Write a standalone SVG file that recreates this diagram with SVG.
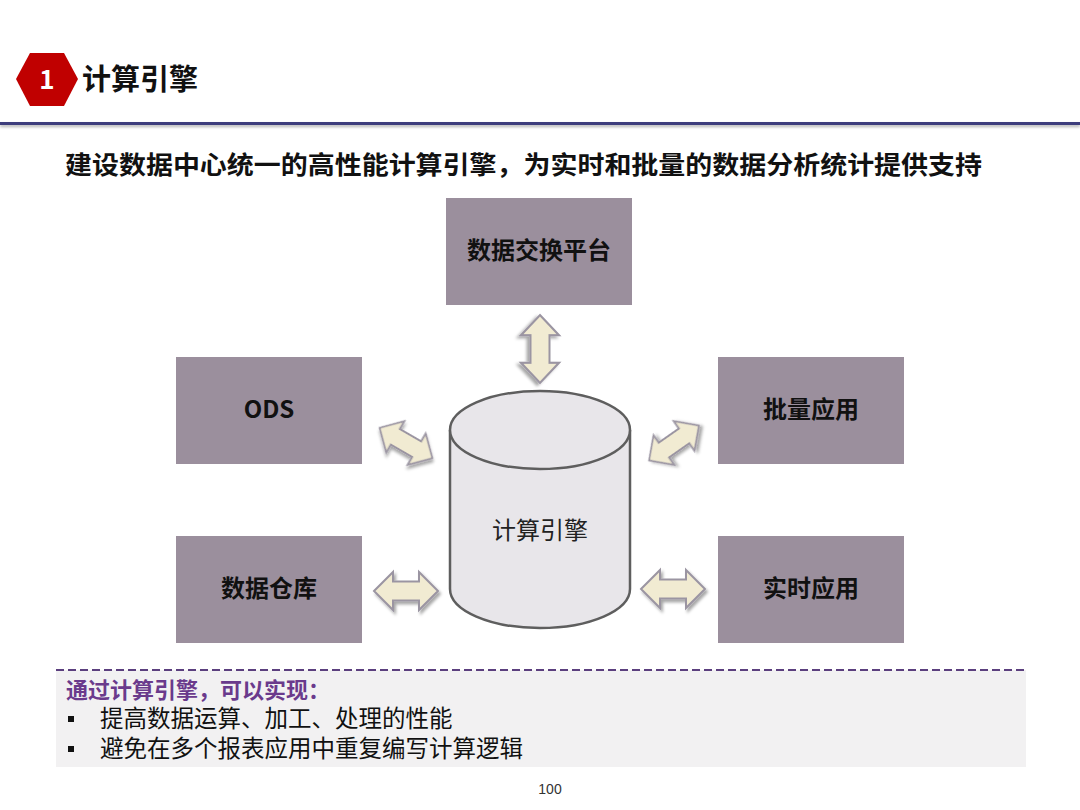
<svg xmlns="http://www.w3.org/2000/svg" width="1080" height="810" viewBox="0 0 1080 810">
<style>
.cjk{font-family:"Noto Sans CJK SC","Liberation Sans",sans-serif}
.box{fill:#9b8f9d}
.boxt{font-family:"Noto Sans CJK SC","Liberation Sans",sans-serif;font-size:24px;font-weight:bold;fill:#111;text-anchor:middle}
.arr{fill:#f1ebd2;stroke:#9b95a2;stroke-width:2;stroke-linejoin:miter}
</style>
<defs>
<filter id="sh" x="-30%" y="-30%" width="160%" height="160%">
<feDropShadow dx="2" dy="3" stdDeviation="1.5" flood-color="#000" flood-opacity="0.35"/>
</filter>
<filter id="lsh" x="0" y="-200%" width="100%" height="500%">
<feDropShadow dx="0" dy="2" stdDeviation="1.5" flood-color="#000" flood-opacity="0.3"/>
</filter>
<path id="dbl" d="M-32,0 L-13,-20 L-13,-10 L13,-10 L13,-20 L32,0 L13,20 L13,10 L-13,10 L-13,20 Z"/>
</defs>
<rect width="1080" height="810" fill="#fff"/>
<g id="header">
<polygon points="16,79 30,53 64,53 78,79 64,106 30,106" fill="#c00000"/>
<text x="47" y="89" class="cjk" font-size="26" font-weight="bold" fill="#fff" text-anchor="middle">1</text>
<text x="82" y="90" class="cjk" font-size="29" font-weight="bold" fill="#111">计算引擎</text>
<rect x="0" y="122" width="1080" height="3" fill="#3c3c7c" filter="url(#lsh)"/>
<text x="65" y="174" class="cjk" font-size="25.5" font-weight="bold" fill="#111" textLength="917" lengthAdjust="spacingAndGlyphs">建设数据中心统一的高性能计算引擎，为实时和批量的数据分析统计提供支持</text>
</g>
<g id="connectors">
<use href="#dbl" class="arr" filter="url(#sh)" transform="translate(540,349) rotate(90) scale(1.06,0.95)"/>
<use href="#dbl" class="arr" filter="url(#sh)" transform="translate(406,443) rotate(30) scale(0.95,0.9)"/>
<use href="#dbl" class="arr" filter="url(#sh)" transform="translate(674,443) rotate(-35) scale(0.95,0.9)"/>
<use href="#dbl" class="arr" filter="url(#sh)" transform="translate(406,591) scale(1,0.95)"/>
<use href="#dbl" class="arr" filter="url(#sh)" transform="translate(673,589) scale(1,0.95)"/>
</g>
<g id="node-exchange"><rect x="446" y="198" width="186" height="107" class="box"/><text x="539" y="259" class="boxt">数据交换平台</text></g>
<g id="node-ods"><rect x="176" y="357" width="186" height="107" class="box"/><text x="269" y="418" class="boxt">ODS</text></g>
<g id="node-batch"><rect x="718" y="357" width="186" height="107" class="box"/><text x="811" y="418" class="boxt">批量应用</text></g>
<g id="node-dw"><rect x="176" y="536" width="186" height="107" class="box"/><text x="269" y="597" class="boxt">数据仓库</text></g>
<g id="node-rt"><rect x="718" y="536" width="186" height="107" class="box"/><text x="811" y="597" class="boxt">实时应用</text></g>
<g id="node-engine">
<path d="M450,430 L450,589 A90,39 0 0 0 630,589 L630,430" fill="#e8e6ea" stroke="#5e5e5e" stroke-width="2.5"/>
<ellipse cx="540" cy="430" rx="90" ry="39" fill="#e8e6ea" stroke="#5e5e5e" stroke-width="2.5"/>
<text x="540" y="539" class="cjk" font-size="24" fill="#222" text-anchor="middle">计算引擎</text>
</g>
<g id="summary">
<rect x="56" y="670" width="970" height="97" fill="#f2f1f2"/>
<line x1="56" y1="670" x2="1026" y2="670" stroke="#5b3f7e" stroke-width="2" stroke-dasharray="8,4"/>
<text x="66" y="698" class="cjk" font-size="22" font-weight="bold" fill="#6a3a8c">通过计算引擎，可以实现：</text>
<rect x="68" y="716" width="6" height="6" fill="#111"/>
<text x="100" y="727" class="cjk" font-size="23.5" fill="#111">提高数据运算、加工、处理的性能</text>
<rect x="68" y="746" width="6" height="6" fill="#111"/>
<text x="100" y="757" class="cjk" font-size="23.5" fill="#111">避免在多个报表应用中重复编写计算逻辑</text>
</g>
<text x="550" y="794" font-family="Liberation Sans, sans-serif" font-size="14" fill="#333" text-anchor="middle">100</text>
</svg>
